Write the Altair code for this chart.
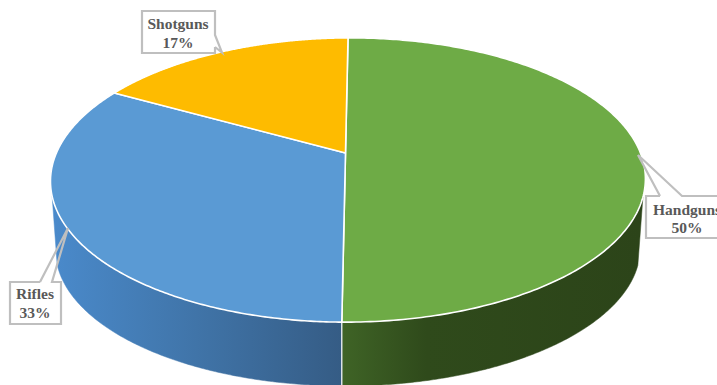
import numpy as np
import pandas as pd
import altair as alt

# Share of each firearm type, clockwise from twelve o'clock
categories = ["Handguns", "Rifles", "Shotguns"]
shares = [50, 33, 17]

top_colors = ["#6EAB46", "#5A9AD4", "#FEBB00"]
wall_stops = {
    "Handguns": [(0, "#3F6426"), (0.28, "#2F4A1B"), (1, "#2C4419")],
    "Rifles": [(0, "#4A8ACB"), (0.5, "#4074A8"), (1, "#355C85")],
}

W, H = 717, 385
TILT = 0.19                # how much the far rim shrinks
ROLL = -0.01               # how much the right side of the rim grows
X0, SKEW = 345.5, 3.0      # disc centre and lean of the view axis
TOP_RIM = dict(y0=153.0, a=292.0, b=137.0)
BOTTOM_RIM = dict(y0=223.0, a=287.0, b=132.0)
SILHOUETTE_V = -0.30       # where the side wall starts to show


def rim(theta, y0, a, b):
    """Perspective view of a unit circle at height y0."""
    u, v = np.sin(theta), np.cos(theta)
    d = 1 + TILT * v + ROLL * u
    return X0 + (a * u + SKEW * v) / d, y0 - b * v / d


def path_frame(xs, ys):
    return pd.DataFrame({"x": xs, "y": ys, "i": np.arange(len(xs))})


X = alt.X("x:Q", scale=alt.Scale(domain=[0, W]), axis=None)
Y = alt.Y("y:Q", scale=alt.Scale(domain=[H, 0]), axis=None)


def outline(df, **mark):
    return alt.Chart(df).mark_line(clip=True, interpolate="linear", **mark).encode(
        x=X, y=Y, order="i:O"
    )


edges = np.cumsum([0] + shares) / sum(shares) * 2 * np.pi
right_limit = np.arccos(SILHOUETTE_V)
left_limit = 2 * np.pi - right_limit

layers = []

# Side walls: only the front part of the rim is visible
for name, start, end in zip(categories, edges[:-1], edges[1:]):
    lo, hi = max(start, right_limit), min(end, left_limit)
    if lo >= hi or name not in wall_stops:
        continue
    t = np.linspace(lo, hi, 160)
    x1, y1 = rim(t, **TOP_RIM)
    x2, y2 = rim(t[::-1], **BOTTOM_RIM)
    xs = np.r_[x1, x2, x1[0]]
    ys = np.r_[y1, y2, y1[0]]
    fill = alt.Gradient(
        gradient="linear", x1=0, x2=1, y1=0, y2=0,
        stops=[alt.GradientStop(offset=o, color=c) for o, c in wall_stops[name]],
    )
    layers.append(outline(path_frame(xs, ys), fill=fill, stroke=fill, strokeWidth=0.5))

# Vertical seam between the two visible walls
seam = edges[1]
sx1, sy1 = rim(np.array([seam]), **TOP_RIM)
sx2, sy2 = rim(np.array([seam]), **BOTTOM_RIM)
layers.append(
    outline(path_frame(np.r_[sx1, sx2], np.r_[sy1, sy2]), stroke="white", strokeWidth=1.2)
)

# Top face of the pie
for color, start, end in zip(top_colors, edges[:-1], edges[1:]):
    t = np.linspace(start, end, 240)
    x, y = rim(t, **TOP_RIM)
    xs = np.r_[X0, x, X0]
    ys = np.r_[TOP_RIM["y0"], y, TOP_RIM["y0"]]
    layers.append(outline(path_frame(xs, ys), fill=color, stroke="white", strokeWidth=1.6))

# Callout boxes: (left, top, right, bottom) plus pointer base and tip
GREY = "#BFBFBF"
callouts = {
    "Handguns": dict(box=(646, 196, 730, 238), side="top", base=(660, 682), tip=(638, 155),
                     text_x=687, baselines=(215, 233)),
    "Rifles": dict(box=(10, 282, 61, 324), side="top", base=(40, 52), tip=(68, 228),
                   text_x=35, baselines=(299, 318)),
    "Shotguns": dict(box=(142, 11, 215, 53), side="right", base=(35, 47), tip=(222, 52.5),
                     text_x=178, baselines=(29, 48)),
}

for name, share in zip(categories, shares):
    c = callouts[name]
    l, t, r, b = c["box"]
    box = pd.DataFrame({"x": [l], "x2": [r], "y": [t], "y2": [b]})
    layers.append(
        alt.Chart(box).mark_rect(fill="white", clip=True).encode(
            x=X, x2="x2:Q", y=Y, y2="y2:Q"
        )
    )
    b0, b1 = c["base"]
    tx, ty = c["tip"]
    if c["side"] == "top":
        xs = [b0, tx, b1, r, r, l, l, b0]
        ys = [t, ty, t, t, b, b, t, t]
    else:
        xs = [r, tx, r, r, l, l, r, r]
        ys = [b1, ty, b0, t, t, b, b, b1]
    layers.append(
        outline(path_frame(np.array(xs, float), np.array(ys, float)),
                stroke=GREY, strokeWidth=2.2, strokeJoin="miter")
    )
    text = pd.DataFrame({
        "x": [c["text_x"]] * 2,
        "y": list(c["baselines"]),
        "label": [name, f"{share}%"],
    })
    layers.append(
        alt.Chart(text).mark_text(
            font="Liberation Serif", fontWeight="bold", fontSize=15.5,
            color="#595959", baseline="alphabetic", align="center", clip=True,
        ).encode(x=X, y=Y, text="label:N")
    )

chart = (
    alt.layer(*layers)
    .properties(
        width=W, height=H, padding=0,
        autosize=alt.AutoSizeParams(type="none"),
        background="white",
    )
    .configure_view(stroke=None)
)

chart.save("out.html", embed_options={"renderer": "svg", "actions": False})
